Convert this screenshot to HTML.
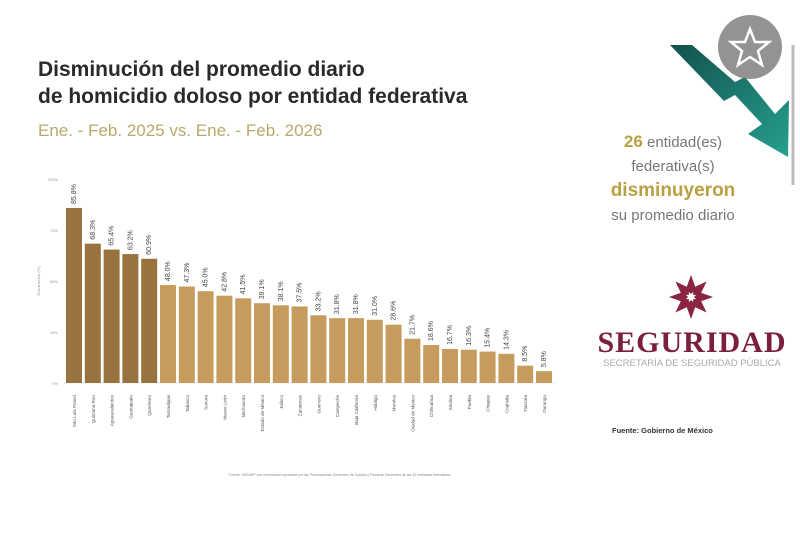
<!DOCTYPE html>
<html><head><meta charset="utf-8"><style>
body{margin:0;width:800px;height:533px;background:#fff;overflow:hidden;font-family:"Liberation Sans",sans-serif;position:relative}
.t{position:absolute;white-space:nowrap}
</style></head><body>
<div class="t" style="left:38px;top:56px;font-size:21px;font-weight:bold;color:#2a2a2a;line-height:27px">Disminución del promedio diario<br>de homicidio doloso por entidad federativa</div>
<div class="t" style="left:38px;top:121px;font-size:17px;color:#b8a86c">Ene. - Feb. 2025 vs. Ene. - Feb. 2026</div>
<svg width="800" height="533" style="position:absolute;left:0;top:0">
<g font-size="4" fill="#999" text-anchor="end" font-family="Liberation Sans">
<text x="58" y="181">100%</text><text x="58" y="232">75%</text><text x="58" y="283">50%</text><text x="58" y="334">25%</text><text x="58" y="385">0%</text>
<text transform="translate(40,281) rotate(-90)" text-anchor="middle">Disminución (%)</text>
</g>
<line x1="64" y1="383" x2="555" y2="383" stroke="#ddd" stroke-width="0.5"/>
<g id="bars"></g>
<text x="340" y="476" font-size="3.5" fill="#888" text-anchor="middle">Fuente: SESNSP con información reportada por las Procuradurías Generales de Justicia y Fiscalías Generales de las 32 entidades federativas.</text>
<!-- arrow -->
<defs><linearGradient id="g" x1="0" y1="0" x2="1" y2="1"><stop offset="0" stop-color="#13514d"/><stop offset="1" stop-color="#25a08e"/></linearGradient></defs>
<polygon points="670,45 692,45 735,82 745,77 775,114 789,100 788,157 748,134 762,124 735,95 724,101" fill="url(#g)"/>
<circle cx="750" cy="47" r="32" fill="#808080" opacity="0.85"/>
<polygon points="750,29 755,42 769,42 758,51 762,65 750,57 738,65 742,51 731,42 745,42" fill="none" stroke="#fff" stroke-width="2.5"/>
<line x1="793" y1="45" x2="793" y2="185" stroke="#bbb" stroke-width="3"/>
<!-- logo -->
<g transform="translate(691,297)" fill="#8a2440">
<g id="p"><polygon points="0,-22 5,-8 0,-3 -5,-8"/></g>
<use href="#p" transform="rotate(45)"/><use href="#p" transform="rotate(90)"/><use href="#p" transform="rotate(135)"/><use href="#p" transform="rotate(180)"/><use href="#p" transform="rotate(225)"/><use href="#p" transform="rotate(270)"/><use href="#p" transform="rotate(315)"/>
</g>
</svg>
<div class="t" style="left:578px;top:130px;width:190px;text-align:center;font-size:15px;color:#777;line-height:24px"><b style="color:#b9a040;font-size:17px">26</b> entidad(es)<br>federativa(s)<br><b style="color:#b9a040;font-size:19px">disminuyeron</b><br>su promedio diario</div>
<div class="t" style="left:592px;top:326px;width:200px;text-align:center;font-family:'Liberation Serif',serif;font-weight:bold;font-size:30px;color:#7a1f3c;letter-spacing:1px">SEGURIDAD</div>
<div class="t" style="left:592px;top:358px;width:200px;text-align:center;font-size:9.5px;color:#aaa">SECRETARÍA DE SEGURIDAD PÚBLICA</div>
<div class="t" style="left:612px;top:426px;font-size:7.5px;font-weight:bold;color:#333">Fuente: Gobierno de México</div>
<script>
var v=[85.8,68.3,65.4,63.2,60.9,48.0,47.3,45.0,42.8,41.5,39.1,38.1,37.5,33.2,31.8,31.8,31.0,28.6,21.7,18.6,16.7,16.3,15.4,14.3,8.5,5.8];
var n=["San Luis Potosí","Quintana Roo","Aguascalientes","Guanajuato","Querétaro","Tamaulipas","Tabasco","Sonora","Nuevo León","Michoacán","Estado de México","Jalisco","Zacatecas","Guerrero","Campeche","Baja California","Hidalgo","Morelos","Ciudad de México","Chihuahua","Sinaloa","Puebla","Chiapas","Coahuila","Tlaxcala","Durango"];
var s="";
for(var i=0;i<26;i++){var x=66+i*18.8,h=v[i]*2.04,y=383-h;
s+='<rect x="'+x+'" y="'+y+'" width="16" height="'+h+'" fill="'+(i<5?'#98733f':'#c59b5e')+'"/>';
s+='<text transform="translate('+(x+10)+','+(y-4)+') rotate(-90)" font-size="7" fill="#444" font-family="Liberation Sans">'+v[i].toFixed(1)+'%</text>';
s+='<text transform="translate('+(x+10)+',395) rotate(-90)" font-size="4.6" fill="#555" text-anchor="end" font-family="Liberation Sans">'+n[i]+'</text>';}
document.getElementById("bars").innerHTML=s;
</script>
</body></html>
